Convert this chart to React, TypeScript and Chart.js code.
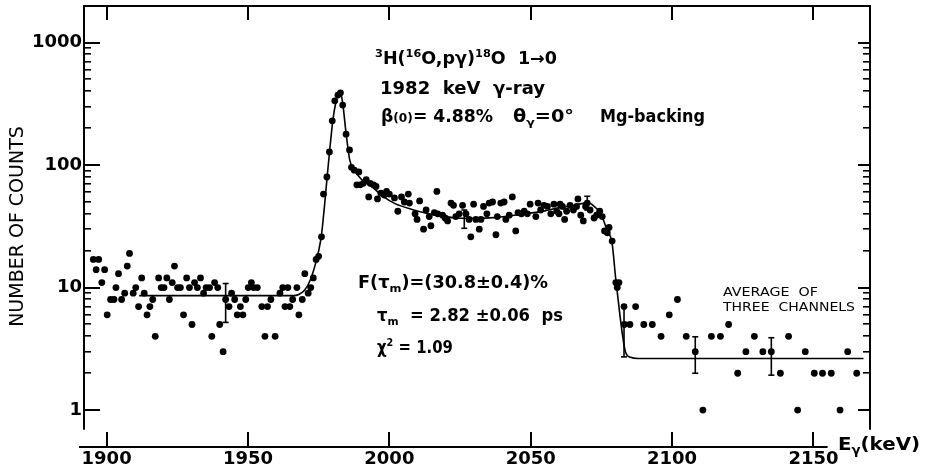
import React, { useEffect, useRef } from "react";
import { Chart, registerables } from "chart.js";

Chart.register(...registerables);

// ---- data ----
const energyKeV = [
  1895.3, 1896.3, 1897.2, 1898.3, 1899.3, 1900.2, 1901.4, 1902.6, 1903.3, 1904.2,
  1905.3, 1906.4, 1907.3, 1908.1, 1909.4, 1910.3, 1911.3, 1912.4, 1913.3, 1914.3,
  1915.3, 1916.3, 1917.2, 1918.4, 1919.3, 1920.3, 1921.3, 1922.2, 1923.2, 1924.0,
  1925.1, 1926.1, 1927.2, 1928.3, 1929.3, 1930.2, 1931.1, 1932.1, 1933.2, 1934.3,
  1935.2, 1936.4, 1937.2, 1938.2, 1939.3, 1940.0, 1941.2, 1942.1, 1943.3, 1944.2,
  1945.3, 1946.2, 1947.3, 1948.2, 1949.2, 1950.1, 1951.2, 1952.0, 1953.3, 1954.9,
  1956.0, 1956.9, 1958.1, 1959.6, 1961.3, 1962.3, 1963.1, 1964.1, 1964.8, 1965.8,
  1967.3, 1968.0, 1969.2, 1970.1, 1971.3, 1972.2, 1973.1, 1974.1, 1975.0, 1976.0,
  1976.7, 1977.9, 1978.8, 1979.8, 1980.7, 1981.8, 1982.7, 1983.5, 1984.7, 1985.9,
  1986.6, 1987.6, 1988.5, 1989.2, 1989.7, 1990.8, 1991.8, 1992.7, 1993.2, 1994.4,
  1995.3, 1995.8, 1997.0, 1998.2, 1999.0, 2000.0, 2001.8, 2003.0, 2004.3, 2005.3,
  2006.7, 2007.1, 2009.1, 2009.8, 2010.7, 2012.1, 2013.0, 2014.1, 2014.7, 2015.9,
  2016.8, 2017.1, 2018.8, 2019.7, 2020.6, 2021.8, 2022.7, 2023.5, 2024.7, 2025.9,
  2027.1, 2028.2, 2028.8, 2029.8, 2030.6, 2031.8, 2032.4, 2033.3, 2034.5, 2035.3,
  2036.5, 2037.7, 2038.2, 2039.4, 2040.6, 2041.2, 2042.4, 2043.5, 2044.7, 2045.5,
  2046.7, 2047.7, 2048.8, 2049.8, 2051.8, 2052.6, 2053.5, 2054.7, 2055.9, 2057.1,
  2058.2, 2059.2, 2060.0, 2060.4, 2061.2, 2062.0, 2062.7, 2063.9, 2065.1, 2066.2,
  2066.7, 2067.7, 2068.6, 2069.4, 2070.0, 2071.0, 2072.4, 2073.3, 2074.4, 2075.3,
  2076.1, 2077.1, 2077.7, 2078.8, 2080.1, 2080.6, 2081.2, 2083.0, 2083.1, 2085.1,
  2087.1, 2090.0, 2093.0, 2096.1, 2099.0, 2101.9, 2105.0, 2108.2, 2110.9, 2113.9,
  2117.1, 2120.0, 2123.2, 2126.1, 2129.1, 2132.1, 2135.1, 2138.3, 2141.2, 2144.4,
  2147.1, 2150.3, 2153.2, 2156.3, 2159.4, 2162.1, 2165.3,
];
const counts = [
  17, 14, 17, 11, 14, 6, 8, 8, 10, 13,
  8, 9, 15, 19, 9, 10, 7, 12, 9, 6,
  7, 8, 4, 12, 10, 10, 12, 8, 11, 15,
  10, 10, 6, 12, 10, 5, 11, 10, 12, 9,
  10, 10, 4, 11, 10, 5, 3, 8, 7, 9,
  8, 6, 7, 6, 8, 10, 11, 10, 10, 7,
  4, 7, 8, 4, 9, 10, 7, 10, 7, 8,
  10, 6, 8, 13, 9, 10, 12, 17, 18, 26,
  58, 80, 128, 230, 335, 373, 389, 309, 179, 133,
  96, 91, 69, 88, 69, 71, 76, 55, 71, 69,
  67, 53, 59, 57, 61, 58, 54, 42, 55, 50,
  58, 49, 40, 36, 51, 30, 43, 38, 32, 41,
  61, 40, 39, 37, 35, 49, 47, 38, 40, 47,
  40, 36, 26, 48, 36, 30, 36, 46, 40, 49,
  50, 27, 38, 49, 50, 36, 39, 55, 29, 41,
  40, 42, 40, 48, 38, 49, 43, 47, 46, 40,
  48, 42, 40, 48, 46, 36, 42, 47, 43, 46,
  53, 39, 35, 46, 49, 43, 37, 39, 42, 38,
  29, 28, 31, 24, 11, 10, 11, 7, 5, 5,
  7, 5, 5, 4, 6, 8, 4, 3, 1, 4,
  4, 5, 2, 3, 4, 3, 3, 2, 4, 1,
  3, 2, 2, 2, 1, 3, 2,
];
const fitEnergyKeV = [
  1911.5, 1966, 1968, 1970, 1972, 1974, 1975, 1976, 1977, 1978,
  1979, 1980, 1981, 1982, 1982.6, 1983.5, 1984.7, 1986, 1987.6, 1990,
  1994, 1998, 2002, 2008, 2013.5, 2019, 2025, 2031, 2037, 2043,
  2049, 2055, 2059, 2064, 2068, 2070, 2072, 2074.7, 2077, 2078.8,
  2080, 2081.2, 2082.4, 2083.5, 2085.3, 2088, 2167.7,
];
const fitCounts = [
  8.6, 8.6, 8.8, 9.5, 11.5, 16, 20, 27, 45, 80,
  140, 230, 320, 390, 400, 320, 181, 110, 91, 77,
  66, 55, 48.5, 43.5, 40.3, 38.3, 36.8, 36.8, 37.3, 38.6,
  40.3, 42.3, 44.4, 46.5, 48.5, 50, 47, 40.3, 29.5, 22.9,
  12.2, 7, 4.2, 3.0, 2.7, 2.64, 2.64,
];
const errEnergyKeV = [1942.1, 2026.5, 2070.0, 2083.0, 2108.2, 2135.1];
const errLow = [5.2, 30.5, 43, 2.72, 2.0, 1.93];
const errHigh = [10.8, 43, 55.7, 7.2, 3.97, 3.9];
const xTickValues = [1900, 1950, 2000, 2050, 2100, 2150];
const yTickValues = [1, 10, 100, 1000];
const yMinorFactors = [2, 3, 4, 5, 6, 7, 8, 9];

const FONT = '"DejaVu Sans", sans-serif';

type Run = { t: string; s: number; dy?: number };

function drawRuns(
  ctx: CanvasRenderingContext2D,
  runs: Run[],
  x: number,
  baseline: number,
  targetW: number,
  weight: string
) {
  let total = 0;
  const widths: number[] = [];
  for (const r of runs) {
    ctx.font = `${weight} ${r.s}px ${FONT}`;
    const w = ctx.measureText(r.t).width;
    widths.push(w);
    total += w;
  }
  const k = targetW > 0 ? targetW / total : 1;
  ctx.save();
  ctx.translate(x, baseline);
  ctx.scale(k, 1);
  ctx.textBaseline = "alphabetic";
  ctx.textAlign = "left";
  ctx.fillStyle = "#000";
  let cx = 0;
  runs.forEach((r, i) => {
    ctx.font = `${weight} ${r.s}px ${FONT}`;
    ctx.fillText(r.t, cx, r.dy || 0);
    cx += widths[i];
  });
  ctx.restore();
}

function seg(ctx: CanvasRenderingContext2D, x1: number, y1: number, x2: number, y2: number, w: number) {
  ctx.lineWidth = w;
  ctx.beginPath();
  ctx.moveTo(x1, y1);
  ctx.lineTo(x2, y2);
  ctx.stroke();
}

const framePlugin = {
  id: "frame",
  afterDraw(chart: any) {
    const ctx: CanvasRenderingContext2D = chart.ctx;
    const area = chart.chartArea;
    const left = area.left, right = area.right, top = area.top, bottom = area.bottom;
    const xs = chart.scales.x;
    const ys = chart.scales.y;
    const yLow = ys.getPixelForValue(0.69);
    ctx.save();
    ctx.strokeStyle = "#000";
    ctx.fillStyle = "#000";
    // x ticks (inward, bottom and top)
    xTickValues.forEach((v) => {
      const px = Math.round(xs.getPixelForValue(v));
      ctx.fillRect(px - 1, bottom - 15, 2, 15);
      ctx.fillRect(px - 1, top, 2, 14);
    });
    // y ticks (inward, left and right)
    yTickValues.forEach((d) => {
      const py = Math.round(ys.getPixelForValue(d));
      ctx.fillRect(left, py - 1, 16, 2);
      ctx.fillRect(right - 12, py - 1, 12, 2);
      if (d < 1000) {
        yMinorFactors.forEach((f) => {
          const pm = Math.round(ys.getPixelForValue(d * f));
          ctx.fillRect(left, pm - 1, 7, 1.6);
          ctx.fillRect(right - 7, pm - 1, 7, 1.6);
        });
      }
    });
    // frame
    seg(ctx, left - 1, top, right + 1, top, 2);
    seg(ctx, left, top, left, yLow, 2);
    seg(ctx, right, top, right, yLow, 2);
    seg(ctx, left - 5, bottom, xs.getPixelForValue(2155), bottom, 2);
    // error bars
    errEnergyKeV.forEach((e, i) => {
      const px = xs.getPixelForValue(e);
      const p1 = ys.getPixelForValue(errLow[i]);
      const p2 = ys.getPixelForValue(errHigh[i]);
      seg(ctx, px, p1, px, p2, 1.6);
      seg(ctx, px - 3, p1, px + 3, p1, 1.6);
      seg(ctx, px - 3, p2, px + 3, p2, 1.6);
    });

    const B = "bold";
    drawRuns(ctx, [
      { t: "3", s: 11, dy: -7 },
      { t: "H(", s: 17 },
      { t: "16", s: 11, dy: -7 },
      { t: "O,pγ)", s: 17 },
      { t: "18", s: 11, dy: -7 },
      { t: "O  1→0", s: 17 },
    ], 375, 64, 182, B);
    drawRuns(ctx, [{ t: "1982  keV  γ-ray", s: 17 }], 380, 94, 165, B);
    drawRuns(ctx, [
      { t: "β", s: 17 },
      { t: "(0)", s: 12 },
      { t: "= 4.88%", s: 17 },
    ], 381, 122, 112, B);
    drawRuns(ctx, [
      { t: "θ", s: 17 },
      { t: "γ", s: 11, dy: 4 },
      { t: "=0°", s: 17 },
    ], 513, 122, 61, B);
    drawRuns(ctx, [{ t: "Mg-backing", s: 18 }], 600, 122, 105, B);
    drawRuns(ctx, [
      { t: "F(τ", s: 17 },
      { t: "m", s: 11, dy: 4 },
      { t: ")=(30.8±0.4)%", s: 17 },
    ], 358, 288, 190, B);
    drawRuns(ctx, [
      { t: "τ", s: 17 },
      { t: "m", s: 11, dy: 4 },
      { t: "  = 2.82 ±0.06  ps", s: 17 },
    ], 377, 321, 186, B);
    drawRuns(ctx, [
      { t: "χ", s: 17 },
      { t: "2", s: 11, dy: -7 },
      { t: " = 1.09", s: 17 },
    ], 377, 353, 76, B);
    drawRuns(ctx, [{ t: "AVERAGE  OF", s: 13 }], 723, 296, 95, "normal");
    drawRuns(ctx, [{ t: "THREE  CHANNELS", s: 13 }], 723, 311, 132, "normal");
    drawRuns(ctx, [
      { t: "E", s: 18 },
      { t: "γ", s: 12, dy: 4 },
      { t: "(keV)", s: 18 },
    ], 838, 450, 82, B);
    ctx.restore();
  },
};

export default function App() {
  const ref = useRef<HTMLCanvasElement>(null);
  useEffect(() => {
    if (!ref.current) return;
    const tickFont = { family: FONT, size: 18, weight: "bold" as const };
    const chart = new Chart(ref.current, {
      type: "scatter",
      data: {
        datasets: [
          {
            type: "line" as any,
            label: "fit",
            data: fitEnergyKeV.map((e, i) => ({ x: e, y: fitCounts[i] })),
            borderColor: "#000",
            borderWidth: 1.6,
            pointRadius: 0,
            fill: false,
            cubicInterpolationMode: "monotone",
            order: 2,
          } as any,
          {
            label: "counts",
            data: energyKeV.map((e, i) => ({ x: e, y: counts[i] })),
            backgroundColor: "#000",
            borderColor: "#000",
            pointRadius: 3.4,
            pointBorderWidth: 0,
            order: 1,
          },
        ],
      },
      options: {
        animation: false,
        responsive: true,
        maintainAspectRatio: false,
        layout: { padding: { top: 6, right: 55, left: 0, bottom: 0 } },
        plugins: { legend: { display: false }, tooltip: { enabled: false } },
        scales: {
          x: {
            type: "linear",
            min: 1892,
            max: 2170,
            border: { display: false },
            grid: { display: false, drawTicks: false },
            afterBuildTicks: (s: any) => {
              s.ticks = xTickValues.map((v) => ({ value: v }));
            },
            afterFit: (s: any) => {
              s.height = 21;
              s.paddingLeft = 0;
              s.paddingRight = 0;
            },
            ticks: {
              font: tickFont,
              color: "#000",
              padding: 2,
              maxRotation: 0,
              autoSkip: false,
              callback: (v: any) => String(v),
            },
          },
          y: {
            type: "logarithmic",
            min: 0.5,
            max: 1990,
            border: { display: false },
            grid: { display: false, drawTicks: false },
            afterBuildTicks: (s: any) => {
              s.ticks = yTickValues.map((v) => ({ value: v, major: true }));
            },
            afterFit: (s: any) => {
              s.width = 84;
              s.paddingTop = 0;
              s.paddingBottom = 0;
            },
            ticks: {
              font: tickFont,
              color: "#000",
              padding: 2,
              autoSkip: false,
              callback: (v: any) => String(v),
            },
            title: {
              display: true,
              text: "NUMBER OF COUNTS",
              color: "#000",
              font: { family: FONT, size: 19, weight: "normal" as const },
              padding: { top: 7, bottom: 0 },
            },
          },
        },
      },
      plugins: [framePlugin],
    });
    return () => chart.destroy();
  }, []);
  return (
    <div style={{ position: "absolute", left: 0, top: 0, width: 925, height: 468, background: "#fff" }}>
      <canvas ref={ref} />
    </div>
  );
}
